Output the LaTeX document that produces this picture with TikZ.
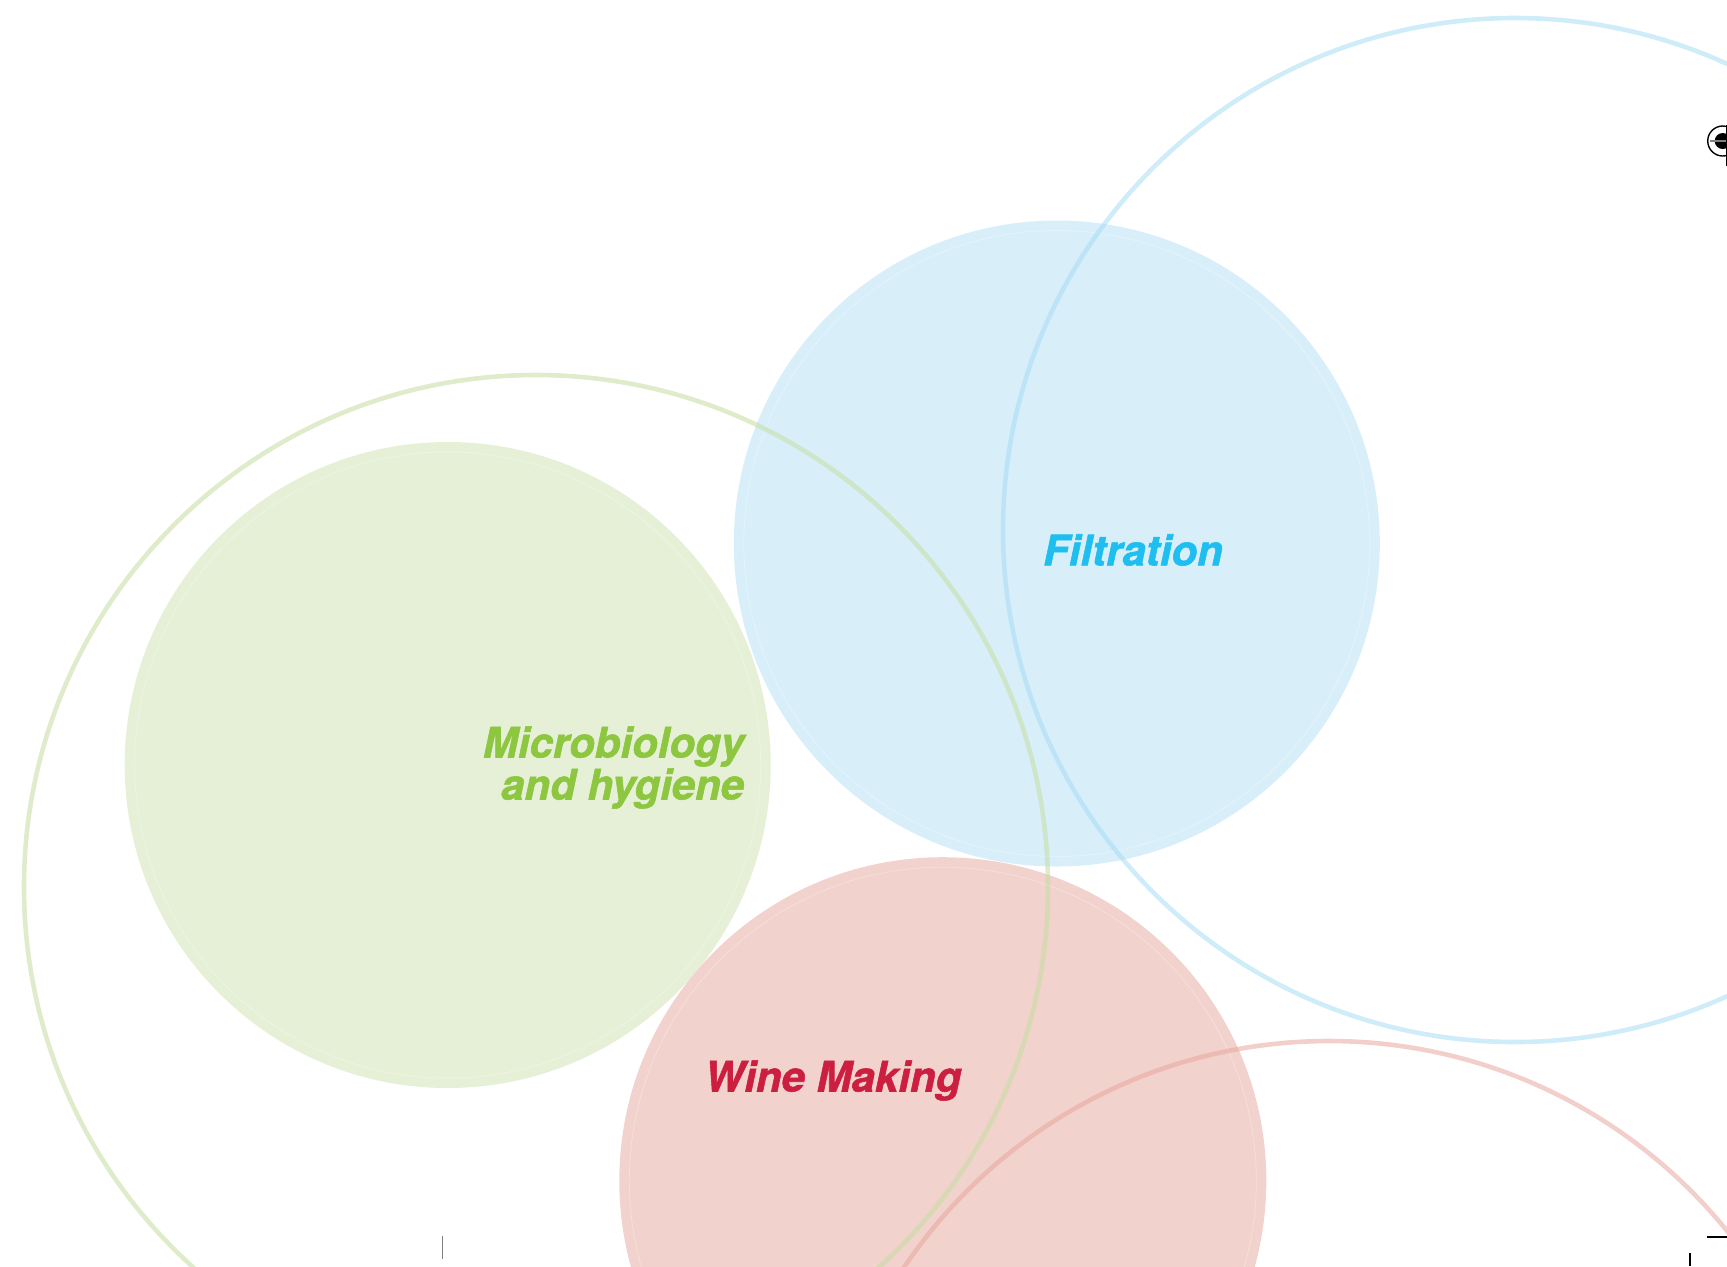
\documentclass[tikz,border=0pt]{standalone}
\usepackage{fontspec}
\setmainfont{TeX Gyre Heros}
\newfontfamily\topicfont{texgyreheros-bolditalic}[Extension=.otf, FakeBold=1.3]

\definecolor{greenfill}{HTML}{E6F0D6}
\definecolor{bluefill}{HTML}{D8EFFA}
\definecolor{redfill}{HTML}{F2D2CD}
\definecolor{greenring}{HTML}{C5DDA0}
\definecolor{bluering}{HTML}{A8DCF4}
\definecolor{redring}{HTML}{E8A89E}
\definecolor{greentext}{HTML}{8DC63F}
\definecolor{bluetext}{HTML}{1EBEF0}
\definecolor{redtext}{HTML}{CC1F40}
\definecolor{markgray}{HTML}{808080}

\tikzset{
  blob/.style={draw=white, draw opacity=0.3, line width=0.4pt},
  ring/.style={line width=2.3pt, opacity=0.55},
  topic/.style={inner sep=0.75pt, font=\fontsize{21}{21}\topicfont},
  cropmark/.style={draw=markgray, line width=0.7pt}
}

\begin{document}
\begin{tikzpicture}[x=0.5pt,y=0.5pt,yscale=-1,xscale=1]
		\useasboundingbox (0,0) rectangle (1727,1266);

		% Draw the filled discs
		\fill[greenfill] (447.7,765) circle (323);
		\fill[bluefill] (1056.8,543.5) circle (323);
		\fill[redfill] (942.8,1180.7) circle (323.5);

		% Faint white line just inside each disc
		\draw[blob] (447.7,765) circle (313);
		\draw[blob] (1056.8,543.5) circle (313);
		\draw[blob] (942.8,1180.7) circle (313.5);

		% Draw the large open rings on top
		\draw[ring, greenring] (536,887) circle (512);
		\draw[ring, bluering] (1515,530) circle (512);
		\draw[ring, redring] (1329,1553) circle (512);

		% The topic labels
		\node[topic, text=bluetext, anchor=center] (filtration) at (1133,550) {Filtration};
		\node[topic, text=greentext, anchor=east, align=right] (micro) at (746,767.5) {Microbiology\\and hygiene};
		\node[topic, text=redtext, anchor=center] (winemaking) at (833,1080.5) {Wine Making};

		% Registration mark (cut at the right edge)
		\draw[line width=0.7pt] (1722.7,141) circle (15);
		\fill[black] (1722.7,141) circle (8);
		\draw[markgray, line width=1pt] (1710,141) -- (1727,141);
		\draw[line width=0.7pt] (1726.5,125) -- (1726.5,166);

		% Crop marks at the bottom
		\draw[cropmark] (442.7,1236) -- (442.7,1259);
		\draw[cropmark, draw=black] (1706.7,1237) -- (1727,1237);
		\draw[cropmark, draw=black] (1690,1253) -- (1690,1266);
	\end{tikzpicture}
\end{document}
